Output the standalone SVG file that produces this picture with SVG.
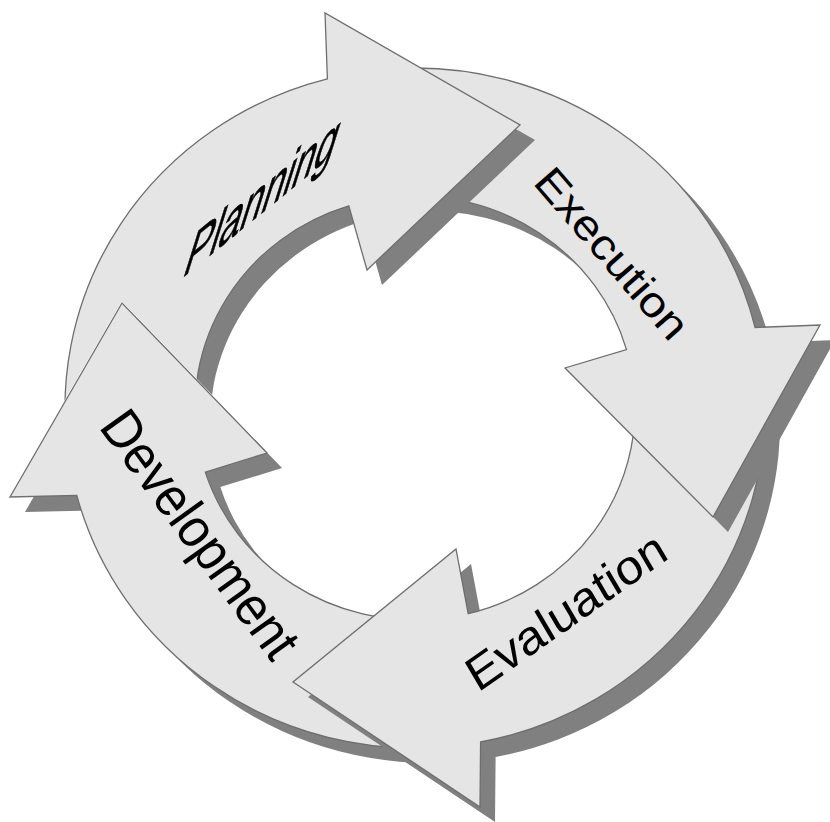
<svg xmlns="http://www.w3.org/2000/svg" width="830" height="822" viewBox="0 0 830 822">
<style>
.shape{fill:#e5e5e5;stroke:#6e6e6e;stroke-width:1.3;stroke-linejoin:miter}
.shadow{fill:#808080}
.label{font-family:"Liberation Sans",Arial,sans-serif;font-size:40px;fill:#000}
</style>
<defs>
<path id="pPlan" d="M70.3,467 A350,340 0 0 1 327.4,78.8 L325,13 L520,125 L367,270 L348.8,205.8 A220,212 0 0 0 198.3,444.8 Z"/>
<path id="pExec" d="M384.5,69.3 A350,340 0 0 1 755.1,327.5 L820,325 L713,517 L565,368 L626.5,349.6 A220,212 0 0 0 395.8,196.8 Z"/>
<path id="pEval" d="M763.7,378.4 A350,340 0 0 1 480.6,742 L480,807 L293,682 L456,549 L468.2,613.7 A220,212 0 0 0 634.2,389.5 Z"/>
<path id="pDev" d="M445.5,746.7 A350,340 0 0 1 76.8,495.4 L10,497 L122,303 L267,453 L205.3,472.1 A220,212 0 0 0 434.2,619.2 Z"/>
<mask id="mPlan" maskUnits="userSpaceOnUse" x="0" y="0" width="830" height="822">
<rect width="830" height="822" fill="#fff"/>
<use href="#pDev" fill="#000" stroke="#000" stroke-width="2"/>
<use href="#pDev" transform="translate(15,15)" fill="#000"/>
</mask>
</defs>
<g id="development">
<use href="#pDev" class="shadow" transform="translate(15,15)"/>
<use href="#pDev" class="shape"/>
<text class="label" transform="matrix(0.739 1.002 -1.12 0.80 98 427)">Development</text>
</g>
<g id="evaluation">
<use href="#pEval" class="shadow" transform="translate(15,15)"/>
<use href="#pEval" class="shape"/>
<text class="label" transform="matrix(1.03 -0.725 0.6 1.02 478 693)">Evaluation</text>
</g>
<g id="execution">
<use href="#pExec" class="shadow" transform="translate(15,15)"/>
<use href="#pExec" class="shape"/>
<text class="label" transform="matrix(0.786 0.911 -0.80 0.70 532 183)">Execution</text>
</g>
<g id="planning" mask="url(#mPlan)">
<use href="#pPlan" class="shadow" transform="translate(15,15)"/>
<use href="#pPlan" class="shape"/>
<text class="label" style="stroke:#000;stroke-width:0.6" transform="matrix(0.97 -0.79 -0.52 1.66 181 279)">Planning</text>
</g>
</svg>
